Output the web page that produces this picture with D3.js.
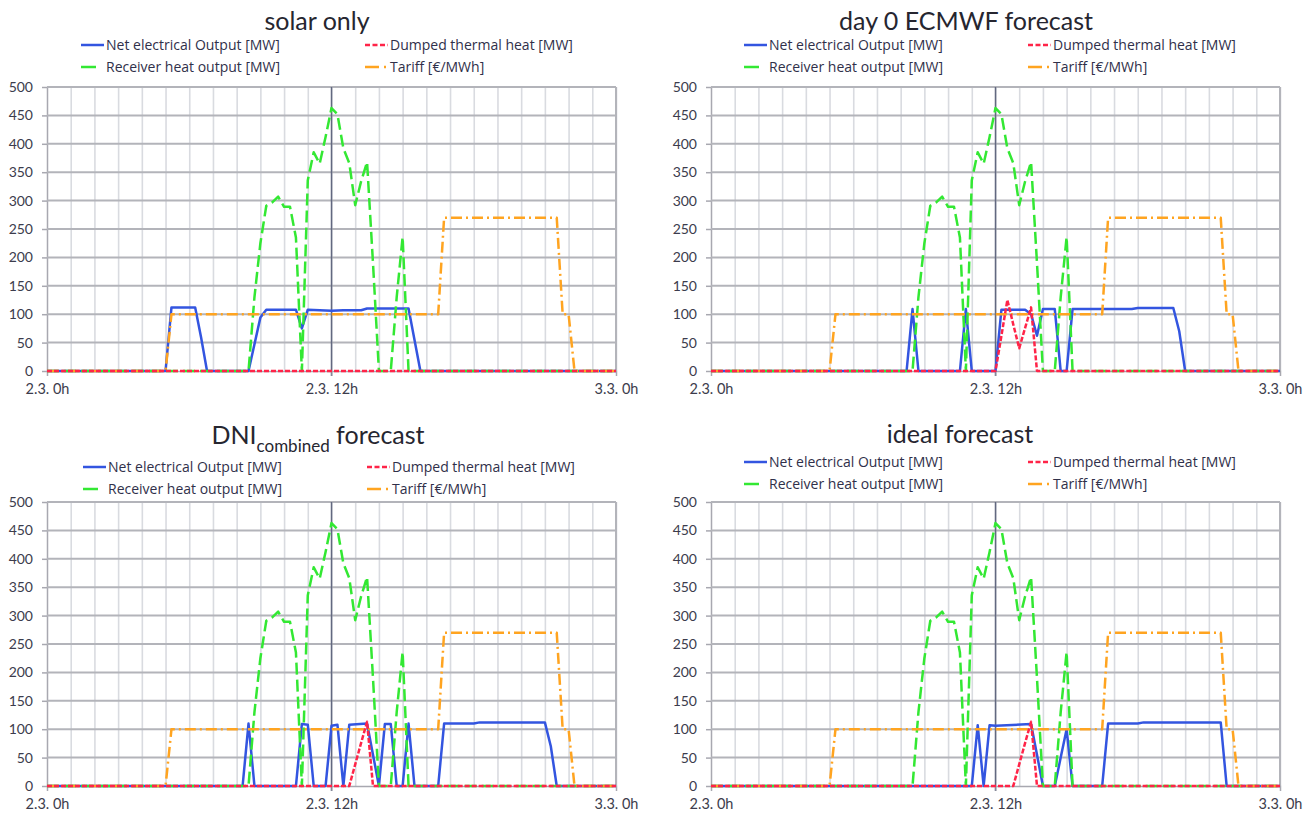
<!DOCTYPE html>
<html>
<head>
<meta charset="utf-8">
<script src="https://cdn.jsdelivr.net/npm/d3@7"></script>
<style>
  body { margin: 0; background: #fff; }
  text { font-family: Lato, "Open Sans", sans-serif; }
</style>
</head>
<body>
<svg id="chart" width="1316" height="816"></svg>
<script>
// values: [hour, value], 15-min samples, flat runs shortened
var xTickValues = [0, 12, 24];
var xTickLabels = ["2.3. 0h", "2.3. 12h", "3.3. 0h"];
var yTickValues = [0, 50, 100, 150, 200, 250, 300, 350, 400, 450, 500];

var seriesNames = ["Net electrical Output [MW]", "Dumped thermal heat [MW]",
                   "Receiver heat output [MW]", "Tariff [€/MWh]"];

var tariff = [[0,0],[5,0],[5.25,100],[16.5,100],[16.75,270],[21.5,270],[21.75,100],[22,100],[22.25,0],[24,0]];

var receiverHeat = [[0,0],[8.5,0],[8.75,130],[9,225],[9.25,291],[9.5,297],[9.75,307],[10,289],[10.25,289],
  [10.5,235],[10.75,0],[11,336],[11.25,385],[11.5,365],[11.75,412],[12,463],[12.25,452],[12.5,392],
  [12.75,366],[13,292],[13.25,334],[13.5,368],[13.75,190],[14,0],[14.5,0],[14.75,130],[15,236],[15.25,0],[24,0]];

var netSolarOnly = [[0,0],[5,0],[5.25,112],[6.25,112],[6.5,59],[6.75,0],[8.5,0],[9,94],[9.25,108],[10.5,108],
  [10.75,75],[11,108],[12,106],[12.5,107],[13.25,107],[13.5,110],[15.25,110],[15.75,0],[24,0]];
var dumpedSolarOnly = [[0,0],[24,0]];

var netEcmwf = [[0,0],[8.25,0],[8.5,109],[8.75,0],[10.5,0],[10.75,109],[11,0],[12,0],[12.25,108],[13.25,108],
  [13.5,100],[13.75,62],[14,109],[14.5,109],[14.75,0],[15,0],[15.25,109],[17.75,109],[18,111],[19.5,111],
  [19.75,70],[20,0],[24,0]];
var dumpedEcmwf = [[0,0],[12,0],[12.25,62],[12.5,125],[12.75,82],[13,40],[13.25,76],[13.5,112],[13.75,0],[24,0]];

var netDni = [[0,0],[8.25,0],[8.5,110],[8.75,0],[10.5,0],[10.75,109],[11,108],[11.25,0],[11.75,0],[12,106],
  [12.25,108],[12.5,0],[12.75,108],[13.5,110],[13.75,55],[14,0],[14.25,109],[14.5,109],[14.75,0],[15,0],
  [15.25,110],[15.5,0],[16.5,0],[16.75,110],[18,110],[18.25,112],[21,112],[21.25,70],[21.5,0],[24,0]];
var dumpedDni = [[0,0],[12.75,0],[13,38],[13.25,76],[13.5,113],[13.75,0],[24,0]];

var netIdeal = [[0,0],[11,0],[11.25,107],[11.5,0],[11.75,107],[12,106],[13.5,109],[13.75,55],[14,0],[14.5,0],
  [14.75,50],[15,100],[15.25,0],[16.5,0],[16.75,110],[18,110],[18.25,112],[21.5,112],[21.75,0],[24,0]];
var dumpedIdeal = [[0,0],[12.75,0],[13,38],[13.25,76],[13.5,113],[13.75,0],[24,0]];

var plotW = 569, plotH = 284;

var panels = [
  { title: [{ t: "solar only" }], net: netSolarOnly, dumped: dumpedSolarOnly,
    ox: 47, oy: 87, titleX: 317, titleY: 30, legX: 81, legY: 45 },
  { title: [{ t: "day 0 ECMWF forecast" }], net: netEcmwf, dumped: dumpedEcmwf,
    ox: 711, oy: 87, titleX: 966, titleY: 30, legX: 744, legY: 45 },
  { title: [{ t: "DNI" }, { t: "combined", sub: true }, { t: " forecast" }], net: netDni, dumped: dumpedDni,
    ox: 47, oy: 502, titleX: 318, titleY: 444, legX: 83, legY: 467 },
  { title: [{ t: "ideal forecast" }], net: netIdeal, dumped: dumpedIdeal,
    ox: 711, oy: 502, titleX: 960, titleY: 443, legX: 744, legY: 462 }
];

var styles = [
  { color: "#3355e0", dash: null,        legDash: null },        // net electrical
  { color: "#ff2448", dash: "5,2",        legDash: "5,2.5" },     // dumped heat
  { color: "#33e833", dash: "12,5",       legDash: "15,8" },      // receiver heat
  { color: "#ffa420", dash: "11,4,2,4",   legDash: "14,5,2,2" }   // tariff
];

var svg = d3.select("#chart");

panels.forEach(function(p) {
  var g = svg.append("g").attr("transform", "translate(" + p.ox + "," + p.oy + ")");

  var x = d3.scaleLinear().domain([0, 24]).range([0, plotW]);
  var y = d3.scaleLinear().domain([0, 500]).range([plotH, 0]);

  // hourly vertical gridlines
  g.append("g")
    .attr("transform", "translate(0," + plotH + ")")
    .call(d3.axisBottom(x).tickValues(d3.range(1, 25)).tickSize(plotH).tickSizeOuter(0).tickFormat(""))
    .call(function(a) {
      a.select(".domain").remove();
      a.selectAll("line").attr("y2", -plotH).attr("stroke", "#d9dbe0").attr("stroke-width", 1.6);
    });

  // horizontal gridlines + left axis labels
  var yAxis = g.append("g")
    .call(d3.axisLeft(y).tickValues(yTickValues).tickSize(5).tickPadding(9).tickSizeOuter(0));
  yAxis.select(".domain").attr("stroke", "#a8a8b0").attr("stroke-width", 1.5);
  yAxis.selectAll(".tick line").attr("stroke", "#a8a8b0").attr("stroke-width", 1.5);
  yAxis.selectAll(".tick text").attr("fill", "#3c3c4c").style("font-size", "14px")
    .style("font-family", "Lato, sans-serif");
  g.append("g").selectAll("line")
    .data(yTickValues.slice(1))
    .enter().append("line")
    .attr("x1", 0).attr("x2", plotW)
    .attr("y1", function(d) { return y(d); })
    .attr("y2", function(d) { return y(d); })
    .attr("stroke", "#b3b4ba").attr("stroke-width", 2);

  // right border
  g.append("line").attr("x1", plotW).attr("x2", plotW).attr("y1", 0).attr("y2", plotH)
    .attr("stroke", "#b3b4ba").attr("stroke-width", 2);

  // 12h line
  g.append("line").attr("x1", x(12)).attr("x2", x(12)).attr("y1", 0).attr("y2", plotH + 5)
    .attr("stroke", "#626880").attr("stroke-width", 1.5);

  // bottom axis labels
  var xAxis = g.append("g")
    .attr("transform", "translate(0," + plotH + ")")
    .call(d3.axisBottom(x).tickValues(xTickValues).tickSize(5).tickPadding(8)
      .tickFormat(function(d, i) { return xTickLabels[i]; }));
  xAxis.select(".domain").attr("stroke", "#a8a8b0").attr("stroke-width", 1.5);
  xAxis.selectAll(".tick line").attr("stroke", "#a8a8b0");
  xAxis.selectAll(".tick text").attr("fill", "#3c3c4c").style("font-size", "14.5px")
    .style("font-family", "Lato, sans-serif");

  // series: net, receiver heat, tariff, dumped
  var line = d3.line().x(function(d) { return x(d[0]); }).y(function(d) { return y(d[1]); });
  var order = [[p.net, 0], [receiverHeat, 2], [tariff, 3], [p.dumped, 1]];
  order.forEach(function(o) {
    var s = styles[o[1]];
    g.append("path")
      .datum(o[0])
      .attr("d", line)
      .attr("fill", "none")
      .attr("stroke", s.color)
      .attr("stroke-width", 2.5)
      .attr("stroke-linejoin", "round")
      .attr("stroke-dasharray", s.dash);
  });

  // title
  var t = svg.append("text")
    .attr("x", p.titleX).attr("y", p.titleY)
    .attr("text-anchor", "middle")
    .attr("fill", "#262630")
    .style("font-size", "25px");
  p.title.forEach(function(part) {
    var ts = t.append("tspan").text(part.t);
    if (part.sub) ts.attr("dy", 8).style("font-size", "17px");
    else if (t.selectAll("tspan").size() > 1) ts.attr("dy", -8);
  });

  // legend (two columns, two rows)
  var legPos = [[0, 0], [284, 0], [0, 1], [284, 1]];
  seriesNames.forEach(function(name, i) {
    var lx = p.legX + legPos[i][0];
    var ly = p.legY + legPos[i][1] * 22;
    svg.append("line")
      .attr("x1", lx).attr("x2", lx + 23).attr("y1", ly).attr("y2", ly)
      .attr("stroke", styles[i].color).attr("stroke-width", 2.5)
      .attr("stroke-dasharray", styles[i].legDash);
    svg.append("text")
      .attr("x", lx + 25).attr("y", ly).attr("dy", "0.35em")
      .attr("fill", "#30304a")
      .style("font-family", "'Open Sans', sans-serif")
      .style("font-size", "14px")
      .text(name);
  });
});
</script>
</body>
</html>
